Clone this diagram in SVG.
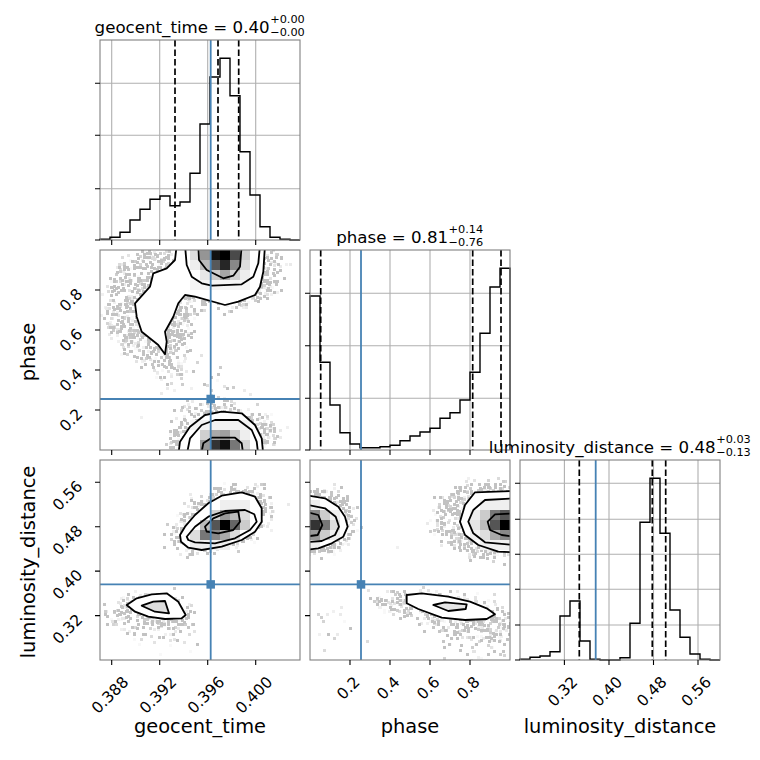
<svg xmlns="http://www.w3.org/2000/svg" width="760" height="760" viewBox="0 0 760 760">
<style>
.bg{fill:#fff}
.frame{fill:none;stroke:#808080;stroke-width:1.1}
.grid{stroke:#b0b0b0;stroke-width:1.1;fill:none}
.tick{stroke:#000;stroke-width:1.1;fill:none}
.hist{fill:none;stroke:#000;stroke-width:1.4}
.q{stroke:#000;stroke-width:1.7;stroke-dasharray:6.5 3;fill:none}
.truth{stroke:#4682b4;stroke-width:1.8;fill:none}
.mk{fill:#4682b4}
.cf{fill:#fff;stroke:none}
.cl{fill:none;stroke:#000;stroke-width:1.8;stroke-linejoin:round}
text{font-family:"DejaVu Sans","Liberation Sans",sans-serif;fill:#000}
.tl{font-size:15.5px}
.al{font-size:19.4px}
.tt{font-size:16.67px}
.ts{font-size:11.3px}
</style>
<defs>
<clipPath id="cA"><rect x="100" y="250" width="200" height="200"/></clipPath>
<clipPath id="cB"><rect x="100" y="460" width="200" height="200"/></clipPath>
<clipPath id="cC"><rect x="310" y="460" width="200" height="200"/></clipPath>
<filter id="sp" filterUnits="userSpaceOnUse" x="90" y="240" width="430" height="430" color-interpolation-filters="sRGB">
<feGaussianBlur in="SourceAlpha" stdDeviation="8" result="d"/>
<feTurbulence type="fractalNoise" baseFrequency="0.7" numOctaves="1" seed="5" result="n"/>
<feColorMatrix in="n" type="matrix" values="0 0 0 0 0  0 0 0 0 0  0 0 0 0 0  1 0 0 0 0" result="na"/>
<feComposite in="na" in2="d" operator="arithmetic" k1="0" k2="1" k3="0.21" k4="-0.84" result="s"/>
<feComponentTransfer in="s" result="t"><feFuncA type="linear" slope="30" intercept="0"/></feComponentTransfer>
<feMorphology in="t" operator="dilate" radius="0.6" result="m"/>
<feGaussianBlur in="m" stdDeviation="0.5" result="mb"/>
<feFlood flood-color="#555" flood-opacity="0.36"/>
<feComposite in2="mb" operator="in"/>
</filter>
</defs>
<rect class="bg" x="0" y="0" width="760" height="760"/>

<g id="hist-geocent_time">
<path class="grid" d="M111.7,40V240M159.7,40V240M207.7,40V240M255.7,40V240M100,83.3H300M100,135.3H300M100,188.7H300"/>
<path class="hist" d="M100,240V239.3H110V237.3H120V232.3H130V220H140V209.3H150V199.3H160V196H170V205.7H180V202H190V173.3H200V124H210V77H220V58.3H230V95.7H240V151.7H250V195H260V226.7H270V237.3H280V239.3H290V240H300"/>
<path class="q" d="M175,40V240M218,40V240M238.7,40V240"/>
<path class="truth" d="M210.7,40V240"/>
<rect class="frame" x="100" y="40" width="200" height="200"/>
<path class="tick" d="M95,83.3H100M95,135.3H100M95,188.7H100M95,240H100M111.7,240V245M159.7,240V245M207.7,240V245M255.7,240V245"/>
<text class="tt" x="269.7" y="32.5" text-anchor="end">geocent_time = 0.40</text>
<text class="ts" x="270.2" y="23.2">+0.00</text>
<text class="ts" x="270.2" y="36.4">−0.00</text>
</g>

<g id="hist-phase">
<path class="grid" d="M350,250V450M390,250V450M430,250V450M470,250V450M310,293.3H510M310,345.7H510M310,398.3H510"/>
<path class="hist" d="M310,450V296H320V362.3H330V405H340V432.7H350V444H360V447.7H380V446.7H390V445.3H400V440.7H410V436H420V432H430V428.3H440V418.3H450V412.7H460V400H470V372.3H480V333.3H490V287H500V268.3H510V450"/>
<path class="q" d="M320.7,250V450M472.7,250V450M501,250V450"/>
<path class="truth" d="M361,250V450"/>
<rect class="frame" x="310" y="250" width="200" height="200"/>
<path class="tick" d="M305,293.3H310M305,345.7H310M305,398.3H310M305,450H310M350,450V455M390,450V455M430,450V455M470,450V455"/>
<text class="tt" x="448.1" y="242.5" text-anchor="end">phase = 0.81</text>
<text class="ts" x="448.6" y="233.2">+0.14</text>
<text class="ts" x="448.6" y="246.4">−0.76</text>
</g>

<g id="hist-luminosity_distance">
<path class="grid" d="M564.4,460V660M609,460V660M653.5,460V660M698,460V660M520,483.3H720M520,519.3H720M520,554.3H720M520,589.3H720M520,625H720"/>
<path class="hist" d="M520,660V659.3H530V657.3H540V656H550V651.7H560V616H570V601H580V641H590V659.3H600V660H620V657.7H630V623.3H640V522.3H650V478.3H660V533.3H670V610H680V637.3H690V654H700V659.3H710V660H720"/>
<path class="q" d="M579.3,460V660M652.3,460V660M665.7,460V660"/>
<path class="truth" d="M595.7,460V660"/>
<rect class="frame" x="520" y="460" width="200" height="200"/>
<path class="tick" d="M515,483.3H520M515,519.3H520M515,554.3H520M515,589.3H520M515,625H520M515,660H520M564.4,660V665M609,660V665M653.5,660V665M698,660V665"/>
<text class="tt" x="715.7" y="452.5" text-anchor="end">luminosity_distance = 0.48</text>
<text class="ts" x="716.2" y="443.2">+0.03</text>
<text class="ts" x="716.2" y="456.4">−0.13</text>
<text class="tl" text-anchor="end" transform="translate(578.6,683) rotate(-45)">0.32</text>
<text class="tl" text-anchor="end" transform="translate(623.2,683) rotate(-45)">0.40</text>
<text class="tl" text-anchor="end" transform="translate(667.7,683) rotate(-45)">0.48</text>
<text class="tl" text-anchor="end" transform="translate(712.2,683) rotate(-45)">0.56</text>
<text class="al" x="620" y="733" text-anchor="middle">luminosity_distance</text>
</g>

<g id="panel-geocent_time-phase">
<g clip-path="url(#cA)">
<g filter="url(#sp)">
<rect x="100" y="250" width="200" height="200" fill-opacity="0.12"/>
<ellipse cx="150" cy="305" rx="50" ry="62" fill-opacity="0.95"/>
<ellipse cx="170" cy="355" rx="30" ry="30" fill-opacity="0.6"/>
<ellipse cx="228" cy="272" rx="62" ry="42" fill-opacity="0.95"/>
<ellipse cx="222" cy="438" rx="62" ry="36" fill-opacity="0.95"/>
<ellipse cx="200" cy="385" rx="55" ry="30" fill-opacity="0.4"/>
</g>
<path class="cf" d="M176.7,245L175,260L166.7,268.3L153.3,273.3L150,286.7L135,303.3L136.7,316.7L141.7,331.7L158.3,345L165,354.3L166.7,341.7L165,331.7L173.3,316.7L178.3,303.3L185,295L195,296.7L225,305L238.3,301.7L255,295L260,286.7L263.3,271.7L265,245Z"/>
<path class="cf" d="M178.3,455L180,441.7L190,426.7L205,415L221.7,411.7L241.7,413.3L255,425L261.7,438.3L263.3,455Z"/>
<rect x="190" y="280" width="60" height="10" fill="#f4f4f4"/>
<rect x="190" y="250" width="10" height="10" fill="#dedede"/>
<rect x="200" y="250" width="10" height="10" fill="#959595"/>
<rect x="210" y="250" width="10" height="10" fill="#111"/>
<rect x="220" y="250" width="10" height="10" fill="#000"/>
<rect x="230" y="250" width="10" height="10" fill="#4a4a4a"/>
<rect x="240" y="250" width="10" height="10" fill="#cfcfcf"/>
<rect x="190" y="260" width="10" height="10" fill="#eeeeee"/>
<rect x="200" y="260" width="10" height="10" fill="#bbbbbb"/>
<rect x="210" y="260" width="10" height="10" fill="#585858"/>
<rect x="220" y="260" width="10" height="10" fill="#262626"/>
<rect x="230" y="260" width="10" height="10" fill="#888"/>
<rect x="240" y="260" width="10" height="10" fill="#dddddd"/>
<rect x="200" y="270" width="10" height="10" fill="#e6e6e6"/>
<rect x="210" y="270" width="10" height="10" fill="#cccccc"/>
<rect x="220" y="270" width="10" height="10" fill="#a5a5a5"/>
<rect x="230" y="270" width="10" height="10" fill="#d2d2d2"/>
<rect x="240" y="270" width="10" height="10" fill="#eeeeee"/>
<rect x="190" y="420" width="60" height="10" fill="#f2f2f2"/>
<rect x="200" y="430" width="10" height="10" fill="#d0d0d0"/>
<rect x="210" y="430" width="10" height="10" fill="#aaaaaa"/>
<rect x="220" y="430" width="10" height="10" fill="#a0a0a0"/>
<rect x="230" y="430" width="10" height="10" fill="#cccccc"/>
<rect x="240" y="430" width="10" height="10" fill="#eeeeee"/>
<rect x="200" y="440" width="10" height="10" fill="#999"/>
<rect x="210" y="440" width="10" height="10" fill="#333"/>
<rect x="220" y="440" width="10" height="10" fill="#111"/>
<rect x="230" y="440" width="10" height="10" fill="#777"/>
<rect x="240" y="440" width="10" height="10" fill="#d5d5d5"/>
<path class="cl" d="M176.7,245L175,260L166.7,268.3L153.3,273.3L150,286.7L135,303.3L136.7,316.7L141.7,331.7L158.3,345L165,354.3L166.7,341.7L165,331.7L173.3,316.7L178.3,303.3L185,295L195,296.7L225,305L238.3,301.7L255,295L260,286.7L263.3,271.7L265,245"/>
<path class="cl" d="M185,245L186.7,265L191.7,276.7L201.7,283.3L211.7,285.7L241.7,284.3L253.3,276.7L258.3,263.3L260,245"/>
<path class="cl" d="M198.3,245L199,260L206.7,270L223.3,278.3L233.3,275.7L240,266.7L241.7,245"/>
<path class="cl" d="M178.3,455L180,441.7L190,426.7L205,415L221.7,411.7L241.7,413.3L255,425L261.7,438.3L263.3,455"/>
<path class="cl" d="M186.7,455L190,438.3L201.7,425L215,420L238.3,420L251.7,430L256.7,441.7L258.3,455"/>
<path class="cl" d="M201,455L203.3,443.3L211.7,437.7L235,437.7L241.7,443.3L243.3,455"/>
<path class="truth" d="M210.7,250V450M100,399H300"/>
<rect class="mk" x="206.45" y="394.75" width="8.5" height="8.5"/>
</g>
<rect class="frame" x="100" y="250" width="200" height="200"/>
<path class="tick" d="M95,290H100M95,330H100M95,370H100M95,410H100M111.7,450V455M159.7,450V455M207.7,450V455M255.7,450V455"/>
<text class="tl" text-anchor="end" transform="translate(83.5,295) rotate(-45)">0.8</text>
<text class="tl" text-anchor="end" transform="translate(83.5,335) rotate(-45)">0.6</text>
<text class="tl" text-anchor="end" transform="translate(83.5,375) rotate(-45)">0.4</text>
<text class="tl" text-anchor="end" transform="translate(83.5,415) rotate(-45)">0.2</text>
<text class="al" text-anchor="middle" transform="translate(34.5,352) rotate(-90)">phase</text>
</g>

<g id="panel-geocent_time-luminosity_distance">
<g clip-path="url(#cB)">
<g filter="url(#sp)">
<rect x="100" y="460" width="200" height="200" fill-opacity="0.08"/>
<ellipse cx="222" cy="521" rx="60" ry="36" transform="rotate(-22 222 521)" fill-opacity="0.95"/>
<ellipse cx="150" cy="612" rx="52" ry="24" fill-opacity="0.9"/>
<ellipse cx="165" cy="638" rx="40" ry="22" fill-opacity="0.5"/>
</g>
<path class="cf" d="M180,535L185,526.7L195,515L208.3,503.3L221.7,495.7L241.7,492.3L255,496.7L261.7,508.3L261.7,521.7L255,531.7L241.7,540L221.7,546.7L201.7,550L188.3,547.7L181,541.7Z"/>
<path class="cf" d="M126.7,605L136.7,598.3L151.7,594.3L166.7,593.3L178.3,601.7L185.7,615L181.7,618.3L165,619L148.3,616.7L135,611.7Z"/>
<rect x="220" y="500" width="30" height="10" fill="#efefef"/>
<rect x="210" y="510" width="10" height="10" fill="#d0d0d0"/>
<rect x="220" y="510" width="10" height="10" fill="#999"/>
<rect x="230" y="510" width="10" height="10" fill="#bbbbbb"/>
<rect x="240" y="510" width="10" height="10" fill="#dddddd"/>
<rect x="200" y="520" width="10" height="10" fill="#bbbbbb"/>
<rect x="210" y="520" width="10" height="10" fill="#555"/>
<rect x="220" y="520" width="10" height="10" fill="#000"/>
<rect x="230" y="520" width="10" height="10" fill="#666"/>
<rect x="240" y="520" width="10" height="10" fill="#cccccc"/>
<rect x="190" y="530" width="10" height="10" fill="#dddddd"/>
<rect x="200" y="530" width="10" height="10" fill="#777"/>
<rect x="210" y="530" width="10" height="10" fill="#888"/>
<rect x="220" y="530" width="10" height="10" fill="#aaaaaa"/>
<rect x="230" y="530" width="10" height="10" fill="#dddddd"/>
<rect x="190" y="540" width="40" height="10" fill="#eeeeee"/>
<path d="M141.7,605.7L153.3,601.7L165,601L169,613.3L155,611.7Z" fill="#dedede"/>
<path class="cl" d="M180,535L185,526.7L195,515L208.3,503.3L221.7,495.7L241.7,492.3L255,496.7L261.7,508.3L261.7,521.7L255,531.7L241.7,540L221.7,546.7L201.7,550L188.3,547.7L181,541.7Z"/>
<path class="cl" d="M186.7,536.7L195,526.7L208.3,516.7L225,511L245,510L254.3,514.3L256.7,521.7L250,530L235,538.3L215,543.3L195,542.3L188.3,540Z"/>
<path class="cl" d="M205,526.7L213.3,518.3L225,513.3L238.3,511.7L240,521.7L233.3,530L218.3,533.3L206.7,531.7Z"/>
<path class="cl" d="M126.7,605L136.7,598.3L151.7,594.3L166.7,593.3L178.3,601.7L185.7,615L181.7,618.3L165,619L148.3,616.7L135,611.7Z"/>
<path class="cl" d="M141.7,605.7L153.3,601.7L165,601L169,613.3L155,611.7Z"/>
<path class="truth" d="M210.7,460V660M100,584.4H300"/>
<rect class="mk" x="206.45" y="580.15" width="8.5" height="8.5"/>
</g>
<rect class="frame" x="100" y="460" width="200" height="200"/>
<path class="tick" d="M95,482.2H100M95,526.7H100M95,571.1H100M95,615.6H100M111.7,660V665M159.7,660V665M207.7,660V665M255.7,660V665"/>
<text class="tl" text-anchor="end" transform="translate(83.5,487.2) rotate(-45)">0.56</text>
<text class="tl" text-anchor="end" transform="translate(83.5,531.7) rotate(-45)">0.48</text>
<text class="tl" text-anchor="end" transform="translate(83.5,576.1) rotate(-45)">0.40</text>
<text class="tl" text-anchor="end" transform="translate(83.5,620.6) rotate(-45)">0.32</text>
<text class="tl" text-anchor="end" transform="translate(129.4,683) rotate(-45)">0.388</text>
<text class="tl" text-anchor="end" transform="translate(177.4,683) rotate(-45)">0.392</text>
<text class="tl" text-anchor="end" transform="translate(225.4,683) rotate(-45)">0.396</text>
<text class="tl" text-anchor="end" transform="translate(273.4,683) rotate(-45)">0.400</text>
<text class="al" text-anchor="middle" transform="translate(34.5,562) rotate(-90)">luminosity_distance</text>
<text class="al" x="200" y="733" text-anchor="middle">geocent_time</text>
</g>

<g id="panel-phase-luminosity_distance">
<g clip-path="url(#cC)">
<g filter="url(#sp)">
<rect x="310" y="460" width="200" height="200" fill-opacity="0.12"/>
<ellipse cx="318" cy="522" rx="45" ry="40" fill-opacity="0.95"/>
<ellipse cx="488" cy="520" rx="60" ry="44" fill-opacity="0.95"/>
<ellipse cx="450" cy="612" rx="90" ry="22" transform="rotate(10 450 612)" fill-opacity="0.9"/>
<ellipse cx="480" cy="640" rx="50" ry="25" fill-opacity="0.6"/>
<ellipse cx="330" cy="630" rx="35" ry="30" fill-opacity="0.45"/>
</g>
<path class="cf" d="M305,495L325,498.3L338.3,506.7L345,516.7L347.7,526.7L343.3,536.7L331.7,543.3L318.3,548.3L305,550Z"/>
<path class="cf" d="M515,491L475,492.3L465,505L460,521.7L465,535L478.3,545L498.3,551.7L515,552.3Z"/>
<path class="cf" d="M406.7,595L421.7,593.3L448.3,596.7L470,601.7L486.7,608.3L495,614.3L486.7,619L465,620L441.7,617.7L418.3,609L406.7,603.3Z"/>
<rect x="310" y="500" width="10" height="10" fill="#eeeeee"/>
<rect x="310" y="510" width="10" height="10" fill="#888"/>
<rect x="320" y="510" width="10" height="10" fill="#cccccc"/>
<rect x="330" y="510" width="10" height="10" fill="#f0f0f0"/>
<rect x="310" y="520" width="10" height="10" fill="#333"/>
<rect x="320" y="520" width="10" height="10" fill="#777"/>
<rect x="330" y="520" width="10" height="10" fill="#dddddd"/>
<rect x="310" y="530" width="10" height="10" fill="#999"/>
<rect x="320" y="530" width="10" height="10" fill="#cccccc"/>
<rect x="330" y="530" width="10" height="10" fill="#f0f0f0"/>
<rect x="310" y="540" width="10" height="10" fill="#eeeeee"/>
<rect x="480" y="500" width="30" height="10" fill="#efefef"/>
<rect x="470" y="510" width="10" height="10" fill="#eeeeee"/>
<rect x="480" y="510" width="10" height="10" fill="#cccccc"/>
<rect x="490" y="510" width="10" height="10" fill="#777"/>
<rect x="500" y="510" width="10" height="10" fill="#555"/>
<rect x="470" y="520" width="10" height="10" fill="#e5e5e5"/>
<rect x="480" y="520" width="10" height="10" fill="#bbbbbb"/>
<rect x="490" y="520" width="10" height="10" fill="#555"/>
<rect x="500" y="520" width="10" height="10" fill="#000"/>
<rect x="470" y="530" width="10" height="10" fill="#f0f0f0"/>
<rect x="480" y="530" width="10" height="10" fill="#dddddd"/>
<rect x="490" y="530" width="10" height="10" fill="#aaaaaa"/>
<rect x="500" y="530" width="10" height="10" fill="#888"/>
<rect x="480" y="540" width="30" height="10" fill="#f0f0f0"/>
<path d="M433.3,605L445,602.3L466.7,604.3L465.7,609L448.3,611Z" fill="#e6e6e6"/>
<path class="cl" d="M305,495L325,498.3L338.3,506.7L345,516.7L347.7,526.7L343.3,536.7L331.7,543.3L318.3,548.3L305,550"/>
<path class="cl" d="M305,504.3L325,508.3L335.7,516.7L339,526.7L335,535L321.7,541L305,542.3"/>
<path class="cl" d="M305,511.7L318.3,515L322.3,525L317.7,535L305,536.7"/>
<path class="cl" d="M515,491L475,492.3L465,505L460,521.7L465,535L478.3,545L498.3,551.7L515,552.3"/>
<path class="cl" d="M515,498.3L485,500L473.3,510L468.3,521.7L473.3,533.3L485,542.3L515,545"/>
<path class="cl" d="M515,513.3L495,514.3L487.7,521.7L490,530L501.7,535L515,536.7"/>
<path class="cl" d="M406.7,595L421.7,593.3L448.3,596.7L470,601.7L486.7,608.3L495,614.3L486.7,619L465,620L441.7,617.7L418.3,609L406.7,603.3Z"/>
<path class="cl" d="M433.3,605L445,602.3L466.7,604.3L465.7,609L448.3,611Z"/>
<path class="truth" d="M361,460V660M310,584.4H510"/>
<rect class="mk" x="356.75" y="580.15" width="8.5" height="8.5"/>
</g>
<rect class="frame" x="310" y="460" width="200" height="200"/>
<path class="tick" d="M305,482.2H310M305,526.7H310M305,571.1H310M305,615.6H310M350,660V665M390,660V665M430,660V665M470,660V665"/>
<text class="tl" text-anchor="end" transform="translate(360.7,683) rotate(-45)">0.2</text>
<text class="tl" text-anchor="end" transform="translate(400.7,683) rotate(-45)">0.4</text>
<text class="tl" text-anchor="end" transform="translate(440.7,683) rotate(-45)">0.6</text>
<text class="tl" text-anchor="end" transform="translate(480.7,683) rotate(-45)">0.8</text>
<text class="al" x="410" y="733" text-anchor="middle">phase</text>
</g>
</svg>
